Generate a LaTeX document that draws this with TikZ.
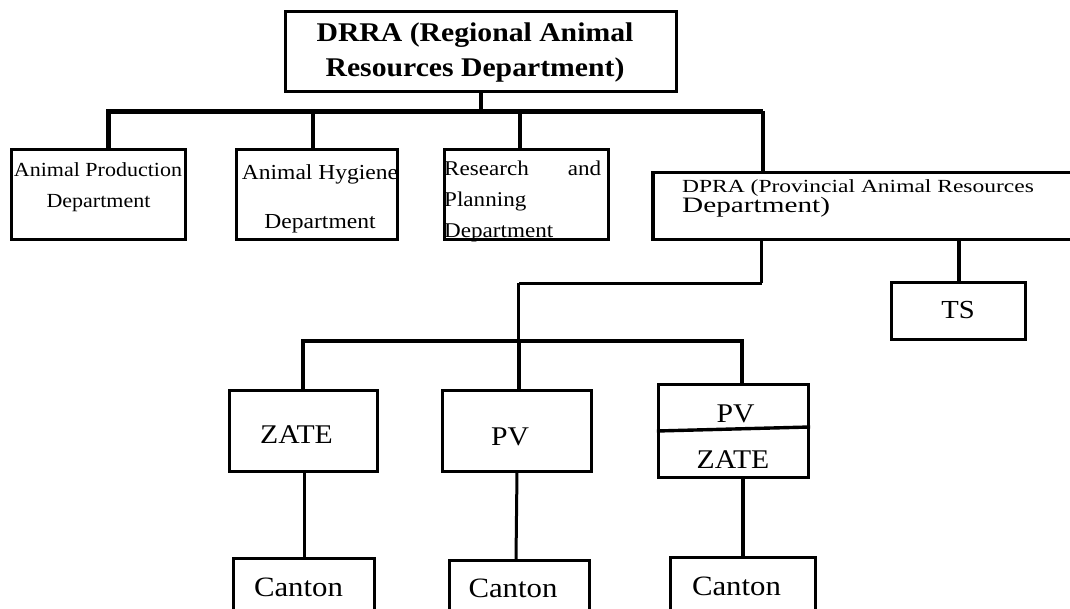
\documentclass[tikz,border=0pt]{standalone}
\usepackage{fontspec}
\setmainfont{Liberation Serif}[FakeStretch=1.1]
\newfontfamily\dprafont{Liberation Serif}[FakeStretch=1.27]
\newfontfamily\dprafontb{Liberation Serif}[FakeStretch=1.33]
\newcommand{\fs}[1]{\fontsize{#1}{#1}\selectfont}
\begin{document}
\begin{tikzpicture}[x=1pt,y=-1pt,
  box/.style={draw, line width=3.2pt, inner sep=0pt, rectangle},
  txt/.style={inner sep=0pt, anchor=base},
  txtl/.style={inner sep=0pt, anchor=base west},
  barline/.style={line width=4.6pt, line join=miter},
  stem/.style={line width=4pt},
  link/.style={line width=3pt},
  thinlink/.style={line width=2.4pt}]
\useasboundingbox (0,0) rectangle (1070,609);
\clip (0,0) rectangle (1070,609);
\fill[white] (0,0) rectangle (1070,609);

% ---- texts ----
\node[txt, font=\fs{27}\bfseries] (td1) at (475,42) {DRRA (Regional Animal};
\node[txt, font=\fs{27}\bfseries] (td2) at (475,77) {Resources Department)};

\node[txt, font=\fs{20}] (ta1) at (98,177) {Animal Production};
\node[txt, font=\fs{20}] (ta2) at (98.5,208) {Department};

\node[txt, font=\fs{21.4}] (th1) at (320,180) {Animal Hygiene};
\node[txt, font=\fs{21.4}] (th2) at (320,229) {Department};

\node[txtl, font=\fs{21}] (tr1) at (444,176) {\makebox[157pt][l]{Research\hfill and}};
\node[txtl, font=\fs{21}] (tr2) at (444,207) {Planning};
\node[txtl, font=\fs{21}] (tr3) at (444,238) {Department};

\node[txtl, font=\dprafont\fs{18.5}] (tp1) at (682,193) {DPRA (Provincial Animal Resources};
\node[txtl, font=\dprafontb\fs{22}] (tp2) at (682,213) {Department)};

\node[txt, font=\fs{26}] (tts) at (958,319) {TS};
\node[txt, font=\fs{27}] (tz) at (296.5,443) {ZATE};
\node[txt, font=\fs{27}] (tpv) at (510,445) {PV};
\node[txt, font=\fs{27}] (tpv2) at (735.5,422) {PV};
\node[txt, font=\fs{27}] (tz2) at (733,468) {ZATE};
\node[txt, font=\fs{28}] (tc1) at (298.5,596) {Canton};
\node[txt, font=\fs{28}] (tc2) at (513,597) {Canton};
\node[txt, font=\fs{28}] (tc3) at (736.5,595) {Canton};

% ---- boxes ----
\node[box, minimum width=391pt, minimum height=80pt] (drra) at (481,51.5) {};
\node[box, minimum width=174pt, minimum height=90pt] (apd) at (98.5,194.5) {};
\node[box, minimum width=161pt, minimum height=90pt] (ahd) at (317,194.5) {};
\node[box, minimum width=164pt, minimum height=90pt] (rpd) at (526.5,194.5) {};
\node[box, minimum width=430pt, minimum height=67pt] (dpra) at (868,206) {};
\node[box, minimum width=134pt, minimum height=57pt] (ts) at (958.5,311) {};
\node[box, minimum width=148pt, minimum height=81pt] (zate) at (303.5,431) {};
\node[box, minimum width=149pt, minimum height=81pt] (pv) at (517,431) {};
\node[box, minimum width=150pt, minimum height=93pt] (pvz) at (733.5,431) {};
\node[box, minimum width=141pt, minimum height=80pt] (c1) at (304,598.5) {};
\node[box, minimum width=140pt, minimum height=78pt] (c2) at (519.5,599.5) {};
\node[box, minimum width=145pt, minimum height=81pt] (c3) at (743,598) {};

% divider in PV / ZATE box
\draw[line width=3.4pt] (pvz.west) -- ([yshift=4pt]pvz.east);

% ---- upper tree ----
\coordinate (j1) at (108.5,111.5);
\coordinate (j2) at (313,111.5);
\coordinate (j3) at (520,111.5);
\coordinate (j4) at (762.5,111.5);
\draw[barline] (j1 |- apd.north) -- (j1) -- (j4);
\draw[stem] (j4) -- (j4 |- dpra.north);
\draw[stem] (drra.south) -- (drra.south |- j1);
\draw[stem] (j2) -- (j2 |- ahd.north);
\draw[stem] (j3) -- (j3 |- rpd.north);

% ---- lower tree ----
\coordinate (k1) at (761.5,283.5);
\coordinate (k2) at (518.5,283.5);
\coordinate (m1) at (303,341);
\coordinate (m3) at (742,341);
\draw[link] (dpra.south -| k1) -- (k1);
\draw[thinlink] (k1) -- (k2);
\draw[link] (k2) -- (k2 |- m1);
\draw[stem] (ts.north) -- (ts.north |- dpra.south);
\draw[barline] (m1 |- zate.north) -- (m1) -- (m3) -- (m3 |- pvz.north);
\draw[stem] (k2 |- m1) -- (k2 |- pv.north);

% ---- cantons ----
\draw[link] (c1.north) -- (c1.north |- zate.south);
\draw[link] (517,472) -- (c2.north -| 516,0);
\draw[stem] (c3.north) -- (c3.north |- pvz.south);
\end{tikzpicture}
\end{document}
